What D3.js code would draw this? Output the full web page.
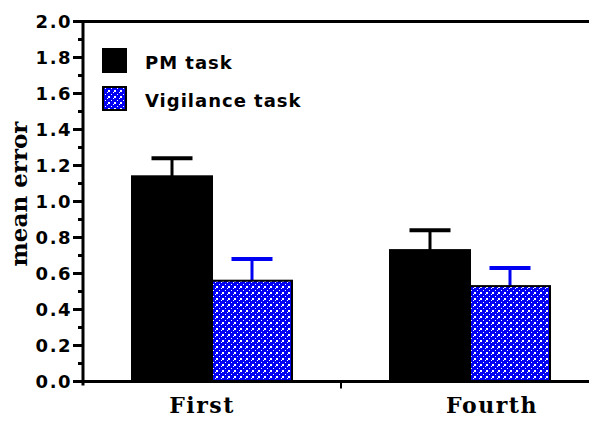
<!DOCTYPE html>
<html>
<head>
<meta charset="utf-8">
<script src="https://cdn.jsdelivr.net/npm/d3@7"></script>
<style>
  body { margin: 0; background: #fff; }
  svg { display: block; }
</style>
</head>
<body>
<div id="chart"></div>
<script>
// data
const sessions = ['First', 'Fourth'];
const series = ['PM task', 'Vigilance task'];
const pmMeans = [1.14, 0.73];
const pmErrors = [0.10, 0.11];
const vigMeans = [0.56, 0.53];
const vigErrors = [0.12, 0.10];
const yTicks = [0, 0.2, 0.4, 0.6, 0.8, 1.0, 1.2, 1.4, 1.6, 1.8, 2.0];

const width = 589, height = 421;
const blue = '#0000f2';

const rows = [];
sessions.forEach((s, i) => {
  rows.push({ session: s, series: series[0], mean: pmMeans[i], err: pmErrors[i] });
  rows.push({ session: s, series: series[1], mean: vigMeans[i], err: vigErrors[i] });
});

const svg = d3.select('#chart')
    .append('svg')
    .attr('width', width)
    .attr('height', height);

// dotted blue fill for the vigilance bars (diagonal rows of dots)
const pat = svg.append('defs').append('pattern')
    .attr('id', 'dots')
    .attr('patternUnits', 'userSpaceOnUse')
    .attr('width', 6)
    .attr('height', 6);
pat.append('rect').attr('width', 6).attr('height', 6).attr('fill', blue);
[[0, 4, 2, 2], [3, 2, 1, 1], [5, 0, 1, 1]].forEach(([px, py, w, h]) => {
  pat.append('rect').attr('x', px).attr('y', py)
      .attr('width', w).attr('height', h).attr('fill', '#fff');
});

const x0 = 83, yTop = 21.5, yBase = 381.5;

const x = d3.scaleBand()
    .domain(sessions)
    .range([x0, 599])
    .padding(0);

const xs = d3.scaleBand()
    .domain(series)
    .range([0, x.bandwidth()])
    .paddingInner(0)
    .paddingOuter(0.6125);

const y = d3.scaleLinear()
    .domain([0, 2])
    .range([yBase, yTop]);

const color = d3.scaleOrdinal()
    .domain(series)
    .range(['#000', 'url(#dots)']);
const errColor = d3.scaleOrdinal()
    .domain(series)
    .range(['#000', blue]);

// error bars (drawn first so bars cover the stem base)
const eb = svg.append('g').selectAll('g')
    .data(rows)
    .join('g')
    .attr('transform', d => `translate(${x(d.session) + xs(d.series) + xs.bandwidth() / 2},0)`);
eb.append('line')
    .attr('y1', d => y(d.mean))
    .attr('y2', d => y(d.mean + d.err))
    .attr('stroke', d => errColor(d.series))
    .attr('stroke-width', 3);
eb.append('line')
    .attr('x1', -20.5).attr('x2', 20.5)
    .attr('y1', d => y(d.mean + d.err))
    .attr('y2', d => y(d.mean + d.err))
    .attr('stroke', d => errColor(d.series))
    .attr('stroke-width', 4);

// bars
svg.append('g').selectAll('rect')
    .data(rows)
    .join('rect')
    .attr('x', d => x(d.session) + xs(d.series))
    .attr('y', d => y(d.mean))
    .attr('width', xs.bandwidth())
    .attr('height', d => y(0) - y(d.mean))
    .attr('fill', d => color(d.series))
    .attr('stroke', '#000')
    .attr('stroke-width', 2);

// y axis
const yAxis = svg.append('g');
yAxis.append('line')
    .attr('x1', x0).attr('x2', x0)
    .attr('y1', y(2) - 1.5).attr('y2', y(0) + 4)
    .attr('stroke', '#000').attr('stroke-width', 3);
yAxis.selectAll('.major')
    .data(yTicks)
    .join('line')
    .attr('x1', x0 - 10).attr('x2', x0)
    .attr('y1', d => y(d)).attr('y2', d => y(d))
    .attr('stroke', '#000').attr('stroke-width', 3);
yAxis.selectAll('.minor')
    .data(yTicks.slice(1).map(d => d - 0.1))
    .join('line')
    .attr('x1', x0 - 5).attr('x2', x0)
    .attr('y1', d => y(d)).attr('y2', d => y(d))
    .attr('stroke', '#000').attr('stroke-width', 3);
yAxis.selectAll('text')
    .data(yTicks)
    .join('text')
    .attr('x', 72)
    .attr('y', d => y(d) + 6.5)
    .attr('text-anchor', 'end')
    .attr('font-family', 'DejaVu Sans')
    .attr('font-weight', 'bold')
    .attr('font-size', 18)
    .attr('letter-spacing', 1.5)
    .text(d => d3.format('.1f')(d));

// top rule
svg.append('line')
    .attr('x1', x0).attr('x2', width)
    .attr('y1', y(2)).attr('y2', y(2))
    .attr('stroke', '#000').attr('stroke-width', 3);

// x axis
svg.append('line')
    .attr('x1', x0).attr('x2', width)
    .attr('y1', y(0)).attr('y2', y(0))
    .attr('stroke', '#000').attr('stroke-width', 3);
svg.append('line')
    .attr('x1', x(sessions[1])).attr('x2', x(sessions[1]))
    .attr('y1', y(0)).attr('y2', y(0) + 7)
    .attr('stroke', '#000').attr('stroke-width', 2);

const labelShift = { First: -10, Fourth: 22 };
svg.append('g').selectAll('text')
    .data(sessions)
    .join('text')
    .attr('x', d => x(d) + x.bandwidth() / 2 + labelShift[d])
    .attr('y', 413)
    .attr('text-anchor', 'middle')
    .attr('font-family', 'DejaVu Serif')
    .attr('font-weight', 'bold')
    .attr('font-size', 22)
    .attr('letter-spacing', 1.5)
    .text(d => d);

// y title
svg.append('text')
    .attr('transform', 'translate(27,194) rotate(-90)')
    .attr('text-anchor', 'middle')
    .attr('font-family', 'DejaVu Serif')
    .attr('font-weight', 'bold')
    .attr('font-size', 23)
    .text('mean error');

// legend
const legend = svg.append('g').selectAll('g')
    .data(series)
    .join('g')
    .attr('transform', (d, i) => `translate(102,${48 + i * 38})`);
legend.append('rect')
    .attr('x', 1).attr('y', 1)
    .attr('width', 23).attr('height', 23)
    .attr('fill', d => color(d))
    .attr('stroke', '#000')
    .attr('stroke-width', 2);
legend.append('text')
    .attr('x', 43)
    .attr('y', 21)
    .attr('font-family', 'DejaVu Sans')
    .attr('font-weight', 'bold')
    .attr('font-size', 18)
    .attr('letter-spacing', 1)
    .text(d => d);
</script>
</body>
</html>
